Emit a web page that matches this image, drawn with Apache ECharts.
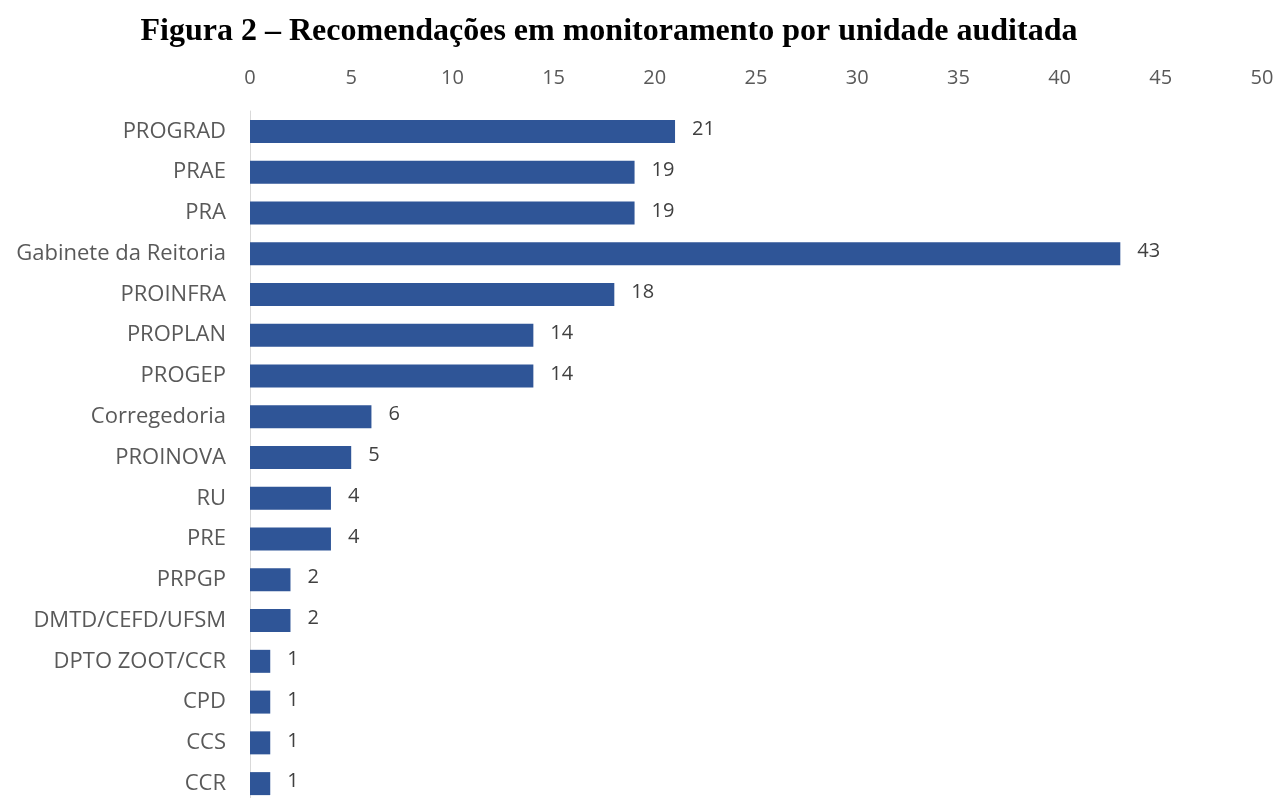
<!DOCTYPE html>
<html><head><meta charset="utf-8">
<script src="https://cdn.jsdelivr.net/npm/echarts@6/dist/echarts.min.js"></script>
<style>html,body{margin:0;padding:0;background:#fff}#c{width:1277px;height:798px}</style>
</head><body><div id="c"></div>
<script>
const titleText = 'Figura 2 – Recomendações em monitoramento por unidade auditada';
const categories = ['PROGRAD','PRAE','PRA','Gabinete da Reitoria','PROINFRA','PROPLAN','PROGEP','Corregedoria','PROINOVA','RU','PRE','PRPGP','DMTD/CEFD/UFSM','DPTO ZOOT/CCR','CPD','CCS','CCR'];
const values = [21,19,19,43,18,14,14,6,5,4,4,2,2,1,1,1,1];
const axisMin = 0, axisMax = 50, axisStep = 5;

const chart = echarts.init(document.getElementById('c'), null, {renderer:'canvas'});
chart.setOption({
  animation:false,
  backgroundColor:'#fff',
  title:{text:titleText,left:604,top:11,textAlign:'center',
    textStyle:{fontFamily:'Liberation Serif',fontWeight:'bold',fontSize:32,color:'#000'}},
  grid:{left:250,right:15,top:111,height:693,containLabel:false,outerBoundsMode:'none'},
  xAxis:{type:'value',position:'top',min:axisMin,max:axisMax,interval:axisStep,
    axisLine:{show:false},axisTick:{show:false},splitLine:{show:false},
    axisLabel:{margin:23,color:'#595959',fontFamily:'Open Sans',fontSize:20}},
  yAxis:{type:'category',data:categories,inverse:true,
    axisLine:{show:true,lineStyle:{color:'#d9d9d9',width:1}},axisTick:{show:false},
    axisLabel:{margin:24,color:'#595959',fontFamily:'Open Sans',fontSize:22}},
  series:[{type:'bar',data:values,barWidth:23,
    itemStyle:{color:'#2F5597'},
    label:{show:true,position:'right',distance:17,offset:[0,-2],color:'#404040',fontFamily:'Open Sans',fontSize:20}}]
});
</script></body></html>
